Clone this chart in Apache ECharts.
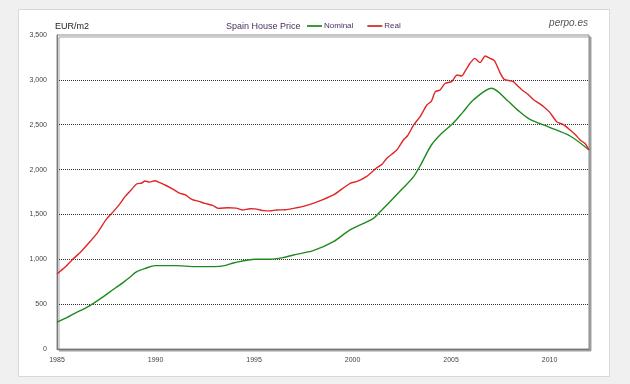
<!DOCTYPE html>
<html><head><meta charset="utf-8">
<script src="https://cdn.jsdelivr.net/npm/echarts@6/dist/echarts.min.js"></script>
<style>html,body{margin:0;padding:0;background:#f0f0f0;}#c{width:630px;height:384px;}</style>
</head><body><div id="c"></div>
<script>
const xTicks = [1985, 1990, 1995, 2000, 2005, 2010];
const yTicks = [0, 500, 1000, 1500, 2000, 2500, 3000, 3500];
const seriesNames = ['Nominal', 'Real'];

const nominalYears = [1985.0,1985.5,1985.9,1986.4,1986.85,1987.3,1987.7,1988.3,1988.7,1989.05,1989.5,1989.97,1991.0,1992.0,1993.0,1993.5,1994.0,1995.05,1995.8,1996.5,1997.0,1998.0,1999.03,1999.87,2001.06,2001.4,2001.9,2002.5,2003.1,2003.5,2004.0,2004.5,2005.1,2005.6,2006.13,2007.06,2007.83,2008.4,2009.0,2010.0,2011.04,2012.0];
const nominalValues = [300,350,398,450,509,575,639,732,800,862,900,929,929,918,918,930,962,1000,1000,1020,1048,1096,1196,1327,1457,1531,1642,1780,1921,2070,2274,2400,2516,2640,2776,2906,2776,2660,2560,2471,2374,2218];

const realYears = [1985.0,1985.4,1985.75,1986.2,1986.6,1987.0,1987.5,1987.86,1988.2,1988.45,1988.75,1989.04,1989.3,1989.47,1989.7,1989.97,1990.2,1990.48,1990.9,1991.24,1991.5,1991.84,1992.2,1992.5,1992.9,1993.2,1993.7,1994.1,1994.4,1994.8,1995.05,1995.5,1995.8,1996.15,1996.6,1997.0,1997.5,1998.0,1998.5,1999.03,1999.5,1999.9,2000.2,2000.7,2001.2,2001.5,2001.74,2002.24,2002.58,2002.8,2003.1,2003.43,2003.77,2004.0,2004.2,2004.44,2004.7,2005.03,2005.3,2005.54,2005.75,2005.96,2006.2,2006.47,2006.73,2006.98,2007.2,2007.5,2007.7,2008.0,2008.16,2008.4,2008.6,2008.9,2009.2,2009.45,2009.7,2010.0,2010.36,2010.7,2011.04,2011.3,2011.55,2011.8,2012.0];
const realValues = [836,910,990,1080,1178,1280,1445,1531,1620,1698,1770,1839,1850,1873,1860,1876,1855,1828,1780,1735,1720,1668,1645,1624,1600,1568,1575,1570,1550,1564,1562,1542,1540,1550,1552,1568,1590,1624,1665,1717,1790,1850,1865,1921,2014,2060,2126,2218,2330,2380,2497,2590,2720,2760,2868,2887,2962,2980,3054,3043,3110,3185,3240,3192,3266,3240,3214,3073,3006,2990,2980,2930,2887,2840,2776,2740,2701,2640,2534,2500,2441,2390,2330,2290,2218];

const zip = (xs, ys) => xs.map((x, i) => [x, ys[i]]);
const chart = echarts.init(document.getElementById('c'));
const fnt = 'Liberation Sans, Arial, sans-serif';
chart.setOption({
  animation: false,
  backgroundColor: 'transparent',
  graphic: [
    {type: 'rect', z: -10, shape: {x: 18.5, y: 9.5, width: 591, height: 367}, style: {fill: '#ffffff', stroke: '#d8d8d8', lineWidth: 1}},
    {type: 'text', left: 55, top: 22, style: {text: 'EUR/m2', font: '9px ' + fnt, fill: '#222'}},
    {type: 'text', left: 226, top: 22, style: {text: 'Spain House Price', font: '9px ' + fnt, fill: '#4a2f5e'}},
    {type: 'text', right: 42, top: 18, style: {text: 'perpo.es', font: 'italic 10px ' + fnt, fill: '#555'}}
  ],
  legend: {
    data: seriesNames, left: 302, top: 17, icon: 'rect', itemWidth: 15, itemHeight: 2, itemGap: 14,
    textStyle: {fontFamily: fnt, fontSize: 8, color: '#4a2f5e', padding: [0, 0, 0, -3]}
  },
  grid: {left: 57, right: 41, top: 35, bottom: 35, show: true, backgroundColor: '#fff', borderColor: '#8a8a8a', borderWidth: 1,
    shadowColor: '#a0a0a0', shadowOffsetX: 2, shadowOffsetY: 2, shadowBlur: 0},
  xAxis: {
    type: 'value', min: 1985, max: 2012, interval: 5,
    axisLine: {show: true, lineStyle: {color: '#777', width: 1}},
    axisTick: {show: false}, splitLine: {show: false},
    axisLabel: {margin: 8, fontSize: 7, fontFamily: fnt, color: '#444',
      formatter: v => xTicks.includes(v) ? String(v) : ''}
  },
  yAxis: {
    type: 'value', min: 0, max: 3500, interval: 500,
    axisLine: {show: true, lineStyle: {color: '#777', width: 1}},
    axisTick: {show: false},
    splitLine: {show: true, showMinLine: false, showMaxLine: false, lineStyle: {color: '#333', type: [1, 1], width: 1}},
    axisLabel: {margin: 10, fontSize: 7, fontFamily: fnt, color: '#444',
      formatter: v => yTicks.includes(v) ? v.toLocaleString('en-US') : ''}
  },
  series: [
    {name: seriesNames[0], type: 'line', data: zip(nominalYears, nominalValues), showSymbol: false, smooth: 0.3,
      lineStyle: {color: '#1f8a1f', width: 1.4}, itemStyle: {color: '#3c9a3c'}},
    {name: seriesNames[1], type: 'line', data: zip(realYears, realValues), showSymbol: false, smooth: 0.2,
      lineStyle: {color: '#e02525', width: 1.4}, itemStyle: {color: '#d84545'}}
  ]
});
</script></body></html>
